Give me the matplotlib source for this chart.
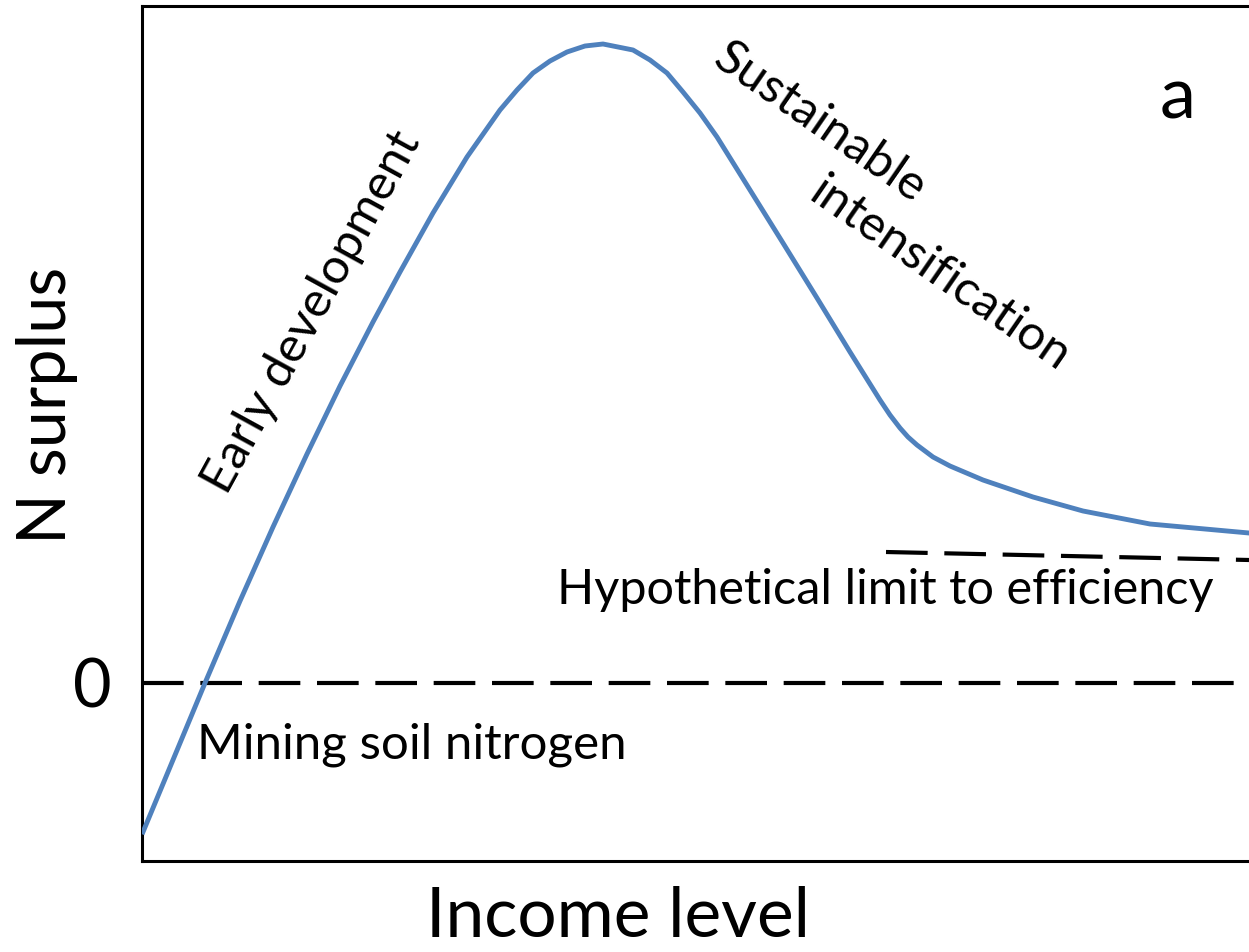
import matplotlib.pyplot as plt
import numpy as np

plt.rcParams['font.family'] = ['Lato', 'DejaVu Sans']

# curve (income level, N surplus), arbitrary units
income = [0.01, 0.63, 0.98, 1.31, 1.65, 1.98, 2.31, 2.58, 2.91, 3.25, 3.58,
          3.75, 3.91, 4.08, 4.25, 4.43, 4.61, 4.91, 5.08, 5.25, 5.41, 5.58,
          5.75, 6.08, 6.41, 6.75, 7.08, 7.38, 7.48, 7.58, 7.66, 7.75, 7.91,
          8.08, 8.41, 8.91, 9.41, 10.08, 11.07]
surplus = [-1.49, 0.00, 0.82, 1.56, 2.29, 2.97, 3.61, 4.11, 4.70, 5.26, 5.73,
           5.93, 6.10, 6.22, 6.31, 6.37, 6.39, 6.33, 6.23, 6.10, 5.91, 5.70,
           5.46, 4.93, 4.40, 3.85, 3.31, 2.83, 2.68, 2.55, 2.46, 2.38, 2.26,
           2.17, 2.03, 1.86, 1.72, 1.59, 1.50]

limit_x = [7.44, 11.07]
limit_y = [1.31, 1.23]

fig = plt.figure(figsize=(12.49, 9.52), dpi=100)
ax = fig.add_axes([142 / 1249, 1 - 861 / 952, 1 - 142 / 1249, 855 / 952])

ax.plot(income, surplus, color='#4F81BD', lw=3.5, solid_joinstyle='round', zorder=3)
ax.axhline(0, color='black', lw=3.0, dashes=(10, 4), zorder=2)
ax.plot(limit_x, limit_y, color='black', lw=3.0, dashes=(10, 4), zorder=2)

ax.set_xlim(0, 11.07)
ax.set_ylim(-1.78, 6.77)
ax.set_xticks([])
ax.set_yticks([0])
ax.set_yticklabels(['0'], fontsize=48)
ax.tick_params(axis='y', length=0, pad=22)
for s in ['left', 'top', 'bottom']:
    ax.spines[s].set_linewidth(2.2)
ax.spines['right'].set_visible(False)

ax.set_xlabel('Income level', fontsize=50, labelpad=18, x=0.43)
ax.set_ylabel('N surplus', fontsize=48, labelpad=-4, y=0.533)

ax.text(0.55, -0.62, 'Mining soil nitrogen', fontsize=35.5, va='center', ha='left')
ax.text(4.15, 0.93, 'Hypothetical limit to efficiency', fontsize=35, va='center', ha='left')
ax.text(1.70, 3.71, 'Early development', fontsize=35.5, rotation=61.3,
        ha='center', va='center', rotation_mode='anchor')
ax.text(6.78, 5.61, 'Sustainable', fontsize=35.5, rotation=-34.6,
        ha='center', va='center', rotation_mode='anchor')
ax.text(7.98, 4.09, 'intensification', fontsize=35.5, rotation=-34.6,
        ha='center', va='center', rotation_mode='anchor')
ax.text(10.36, 5.85, 'a', fontsize=52, ha='center', va='center')

plt.savefig('out.png', dpi=100)
